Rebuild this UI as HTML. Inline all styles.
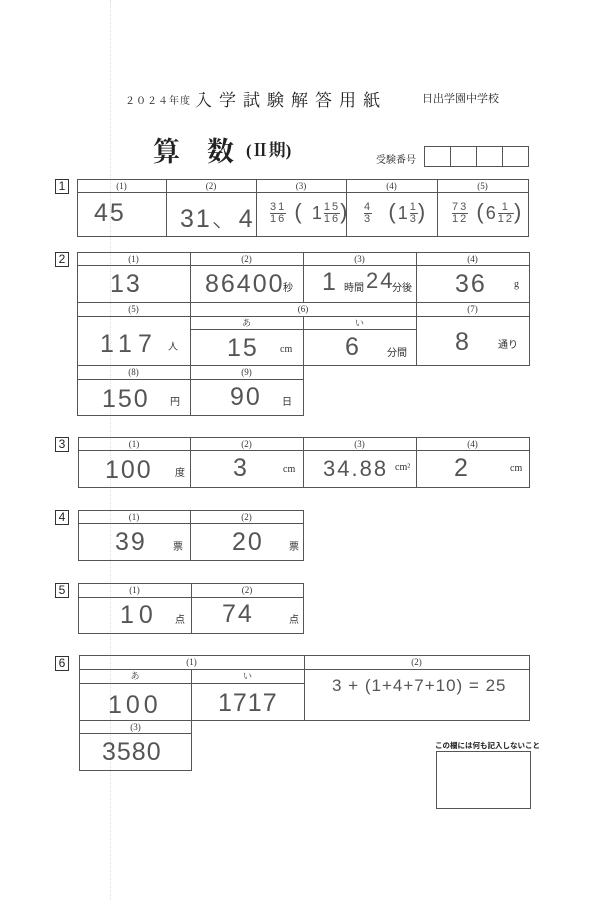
<!DOCTYPE html>
<html><head><meta charset="utf-8"><style>
body{margin:0;background:#fff;}
#p{position:relative;width:600px;height:900px;overflow:hidden;background:#fff;font-family:"Liberation Serif","Noto Serif CJK SC",serif;color:#222;}
.c{position:absolute;border:1.5px solid #555;box-sizing:border-box;}
.h{position:absolute;font-size:9px;text-align:center;line-height:13px;color:#333;}
.a{position:absolute;font-family:"DejaVu Sans ExtraLight","Liberation Sans","Noto Sans CJK JP",sans-serif;font-size:25px;color:#555;font-weight:200;letter-spacing:2px;}
.u{position:absolute;font-size:10px;color:#333;font-family:"Liberation Serif","Noto Sans CJK JP",serif;}
.n{position:absolute;width:12px;height:13px;border:1.2px solid #333;font-family:"Liberation Sans",sans-serif;font-size:12px;line-height:13px;text-align:center;box-sizing:content-box;}
.t{position:absolute;font-family:"Liberation Serif","Noto Serif CJK JP",serif;}
.fr{display:inline-block;text-align:center;font-size:11px;line-height:11px;vertical-align:middle;}
.fr span{display:block;}
.fr span:first-child{border-bottom:1px solid #555;}
</style></head><body><div id="p">
<div style="position:absolute;left:110px;top:0;width:0;height:900px;border-left:1px dotted #ddd"></div>
<div class="t" style="left:125px;top:92px;font-size:10px;letter-spacing:1px">２０２４年度</div>
<div class="t" style="left:195px;top:86px;font-size:17px;letter-spacing:7px">入学試験解答用紙</div>
<div class="t" style="left:422px;top:90px;font-size:11px">日出学園中学校</div>
<div class="t" style="left:153px;top:130px;font-size:27px;font-weight:bold">算　数</div>
<div class="t" style="left:246px;top:136px;font-size:17px;font-weight:bold">(Ⅱ期)</div>
<div class="t" style="left:376px;top:151px;font-size:10px">受験番号</div>
<div class="c" style="left:424px;top:146px;width:105px;height:21px"></div>
<div class="c" style="left:450px;top:146px;width:27px;height:21px;border-top:none;border-bottom:none"></div>
<div class="c" style="left:476px;top:146px;width:27px;height:21px;border-top:none;border-bottom:none;border-left:none"></div>

<!-- 1 -->
<div class="n" style="left:55px;top:179px">1</div>
<div class="c" style="left:77px;top:179px;width:452px;height:58px"></div>
<div class="c" style="left:77px;top:179px;width:452px;height:14px"></div>
<div class="c" style="left:166px;top:179px;width:91px;height:58px;border-top:none;border-bottom:none"></div>
<div class="c" style="left:346px;top:179px;width:92px;height:58px;border-top:none;border-bottom:none"></div>
<div class="h" style="left:77px;top:180px;width:89px">(1)</div>
<div class="h" style="left:166px;top:180px;width:90px">(2)</div>
<div class="h" style="left:256px;top:180px;width:90px">(3)</div>
<div class="h" style="left:346px;top:180px;width:91px">(4)</div>
<div class="h" style="left:437px;top:180px;width:91px">(5)</div>
<div class="a" style="left:94px;top:199px">45</div>
<div class="a" style="left:180px;top:199px">31、4</div>
<div class="a" style="left:270px;top:199px;font-size:22px"><span class="fr"><span>31</span><span>16</span></span> ( <span style="font-size:18px">1</span><span class="fr"><span>15</span><span>16</span></span>)</div>
<div class="a" style="left:364px;top:199px;font-size:22px"><span class="fr"><span>4</span><span>3</span></span>&nbsp; (<span style="font-size:18px">1</span><span class="fr"><span>1</span><span>3</span></span>)</div>
<div class="a" style="left:452px;top:199px;font-size:22px"><span class="fr"><span>73</span><span>12</span></span> (<span style="font-size:18px">6</span><span class="fr"><span>1</span><span>12</span></span>)</div>

<!-- 2 -->
<div class="n" style="left:55px;top:252px">2</div>
<div class="c" style="left:77px;top:252px;width:453px;height:114px"></div>
<div class="c" style="left:77px;top:252px;width:453px;height:14px"></div>
<div class="c" style="left:77px;top:302px;width:453px;height:15px"></div>
<div class="c" style="left:190px;top:252px;width:114px;height:50px;border-top:none;border-bottom:none"></div>
<div class="c" style="left:416px;top:252px;width:1px;height:114px;border-top:none;border-bottom:none;border-right:none"></div>
<div class="c" style="left:190px;top:302px;width:1px;height:64px;border-top:none;border-bottom:none;border-right:none"></div>
<div class="c" style="left:190px;top:316px;width:227px;height:14px"></div>
<div class="c" style="left:303px;top:316px;width:1px;height:50px;border-top:none;border-bottom:none;border-right:none"></div>
<div class="c" style="left:77px;top:365px;width:227px;height:51px"></div>
<div class="c" style="left:77px;top:365px;width:227px;height:15px"></div>
<div class="c" style="left:190px;top:365px;width:1px;height:51px;border-top:none;border-bottom:none;border-right:none"></div>
<div class="h" style="left:77px;top:253px;width:113px">(1)</div>
<div class="h" style="left:190px;top:253px;width:113px">(2)</div>
<div class="h" style="left:303px;top:253px;width:113px">(3)</div>
<div class="h" style="left:416px;top:253px;width:113px">(4)</div>
<div class="h" style="left:77px;top:303px;width:113px">(5)</div>
<div class="h" style="left:190px;top:303px;width:226px">(6)</div>
<div class="h" style="left:416px;top:303px;width:113px">(7)</div>
<div class="h" style="left:190px;top:317px;width:113px">あ</div>
<div class="h" style="left:303px;top:317px;width:113px">い</div>
<div class="h" style="left:77px;top:366px;width:113px">(8)</div>
<div class="h" style="left:190px;top:366px;width:113px">(9)</div>
<div class="a" style="left:110px;top:270px">13</div>
<div class="a" style="left:205px;top:270px">86400</div><div class="u" style="left:283px;top:279px">秒</div>
<div class="a" style="left:322px;top:268px">1</div><div class="u" style="left:344px;top:279px">時間</div><div class="a" style="left:366px;top:268px;font-size:22px">24</div><div class="u" style="left:392px;top:279px">分後</div>
<div class="a" style="left:455px;top:270px">36</div><div class="u" style="left:514px;top:279px">g</div>
<div class="a" style="left:100px;top:330px;letter-spacing:6px">117</div><div class="u" style="left:168px;top:338px">人</div>
<div class="a" style="left:227px;top:334px">15</div><div class="u" style="left:280px;top:344px">cm</div>
<div class="a" style="left:345px;top:333px">6</div><div class="u" style="left:387px;top:344px">分間</div>
<div class="a" style="left:455px;top:328px">8</div><div class="u" style="left:498px;top:336px">通り</div>
<div class="a" style="left:102px;top:385px">150</div><div class="u" style="left:170px;top:393px">円</div>
<div class="a" style="left:230px;top:383px">90</div><div class="u" style="left:282px;top:393px">日</div>

<!-- 3 -->
<div class="n" style="left:55px;top:437px">3</div>
<div class="c" style="left:78px;top:437px;width:452px;height:51px"></div>
<div class="c" style="left:78px;top:437px;width:452px;height:14px"></div>
<div class="c" style="left:190px;top:437px;width:114px;height:51px;border-top:none;border-bottom:none"></div>
<div class="c" style="left:416px;top:437px;width:1px;height:51px;border-top:none;border-bottom:none;border-right:none"></div>
<div class="h" style="left:78px;top:438px;width:112px">(1)</div>
<div class="h" style="left:190px;top:438px;width:113px">(2)</div>
<div class="h" style="left:303px;top:438px;width:113px">(3)</div>
<div class="h" style="left:416px;top:438px;width:113px">(4)</div>
<div class="a" style="left:105px;top:456px">100</div><div class="u" style="left:175px;top:464px">度</div>
<div class="a" style="left:233px;top:454px">3</div><div class="u" style="left:283px;top:464px">cm</div>
<div class="a" style="left:323px;top:456px;font-size:22px">34.88</div><div class="u" style="left:395px;top:462px">cm²</div>
<div class="a" style="left:454px;top:454px">2</div><div class="u" style="left:510px;top:463px">cm</div>

<!-- 4 -->
<div class="n" style="left:55px;top:510px">4</div>
<div class="c" style="left:78px;top:510px;width:226px;height:51px"></div>
<div class="c" style="left:78px;top:510px;width:226px;height:14px"></div>
<div class="c" style="left:190px;top:510px;width:1px;height:51px;border-top:none;border-bottom:none;border-right:none"></div>
<div class="h" style="left:78px;top:511px;width:112px">(1)</div>
<div class="h" style="left:190px;top:511px;width:113px">(2)</div>
<div class="a" style="left:115px;top:528px">39</div><div class="u" style="left:173px;top:538px">票</div>
<div class="a" style="left:232px;top:528px">20</div><div class="u" style="left:289px;top:538px">票</div>

<!-- 5 -->
<div class="n" style="left:55px;top:583px">5</div>
<div class="c" style="left:78px;top:583px;width:226px;height:51px"></div>
<div class="c" style="left:78px;top:583px;width:226px;height:15px"></div>
<div class="c" style="left:191px;top:583px;width:1px;height:51px;border-top:none;border-bottom:none;border-right:none"></div>
<div class="h" style="left:78px;top:584px;width:113px">(1)</div>
<div class="h" style="left:191px;top:584px;width:112px">(2)</div>
<div class="a" style="left:120px;top:601px;letter-spacing:5px">10</div><div class="u" style="left:175px;top:611px">点</div>
<div class="a" style="left:222px;top:600px">74</div><div class="u" style="left:289px;top:611px">点</div>

<!-- 6 -->
<div class="n" style="left:55px;top:656px">6</div>
<div class="c" style="left:79px;top:655px;width:451px;height:66px"></div>
<div class="c" style="left:79px;top:655px;width:451px;height:15px"></div>
<div class="c" style="left:79px;top:669px;width:226px;height:15px"></div>
<div class="c" style="left:304px;top:655px;width:1px;height:66px;border-top:none;border-bottom:none;border-right:none"></div>
<div class="c" style="left:191px;top:669px;width:1px;height:52px;border-top:none;border-bottom:none;border-right:none"></div>
<div class="h" style="left:79px;top:656px;width:225px">(1)</div>
<div class="h" style="left:304px;top:656px;width:225px">(2)</div>
<div class="h" style="left:79px;top:670px;width:112px">あ</div>
<div class="h" style="left:191px;top:670px;width:113px">い</div>
<div class="a" style="left:108px;top:691px;letter-spacing:4px">100</div>
<div class="a" style="left:218px;top:689px;letter-spacing:1px">1717</div>
<div class="a" style="left:332px;top:676px;font-size:17px;letter-spacing:1px">3 + (1+4+7+10) = 25</div>
<div class="c" style="left:79px;top:720px;width:113px;height:51px"></div>
<div class="c" style="left:79px;top:720px;width:113px;height:14px"></div>
<div class="h" style="left:79px;top:721px;width:113px">(3)</div>
<div class="a" style="left:102px;top:738px;letter-spacing:1px">3580</div>
<div class="t" style="left:435px;top:740px;font-size:7.5px;font-family:'Noto Sans CJK JP',sans-serif;font-weight:bold">この欄には何も記入しないこと</div>
<div class="c" style="left:436px;top:751px;width:95px;height:58px;border-width:1px"></div>
</div></body></html>
